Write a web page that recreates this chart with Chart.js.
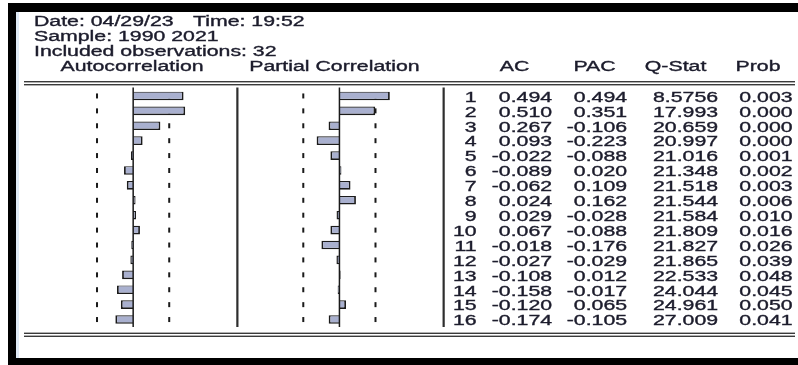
<!DOCTYPE html>
<html>
<head>
<meta charset="utf-8">
<title>Correlogram</title>
<script src="https://cdn.jsdelivr.net/npm/chart.js@4/dist/chart.umd.min.js"></script>
<style>
  html, body { margin: 0; padding: 0; background: #ffffff; }
  #wrap { width: 798px; height: 365px; }
</style>
</head>
<body>
<div id="wrap"><canvas id="cg" width="798" height="365"></canvas></div>
<script>
// Correlogram header
const headerLines = ['Date: 04/29/23', 'Sample: 1990 2021', 'Included observations: 32'];
const timeStamp = 'Time: 19:52';
const nObs = 32;

// Lags and statistics
const lags = ['1','2','3','4','5','6','7','8','9','10','11','12','13','14','15','16'];
const ac = [0.494, 0.510, 0.267, 0.093, -0.022, -0.089, -0.062, 0.024, 0.029, 0.067, -0.018, -0.027, -0.108, -0.158, -0.120, -0.174];
const pac = [0.494, 0.351, -0.106, -0.223, -0.088, 0.020, 0.109, 0.162, -0.028, -0.088, -0.176, -0.029, 0.012, -0.017, 0.065, -0.105];
const qStat = ['8.5756', '17.993', '20.659', '20.997', '21.016', '21.348', '21.518', '21.544', '21.584', '21.809', '21.827', '21.865', '22.533', '24.044', '24.961', '27.009'];
const prob = ['0.003', '0.000', '0.000', '0.000', '0.001', '0.002', '0.003', '0.006', '0.010', '0.016', '0.026', '0.039', '0.048', '0.045', '0.050', '0.041'];

// approximate 95% bound for the correlation panels
const bound = 2 / Math.sqrt(nObs);

const TEXT = '#1c1c2c';
const FONT = '14px "Liberation Sans", Arial, sans-serif';
const SX = 1.52; // wide lettering of the output window

function wideText(ctx, str, x, y, align) {
  ctx.save();
  ctx.translate(x, y);
  ctx.scale(SX, 1);
  ctx.textAlign = align;
  ctx.textBaseline = 'alphabetic';
  ctx.fillText(str, 0, 0);
  ctx.lineWidth = 0.35;
  ctx.strokeStyle = TEXT;
  ctx.strokeText(str, 0, 0);
  ctx.restore();
}

const correlogramFrame = {
  id: 'correlogramFrame',
  beforeDraw(chart) {
    const ctx = chart.ctx;
    const { xAc, xPac, xTab } = chart.scales;
    ctx.save();
    ctx.fillStyle = '#ffffff';
    ctx.fillRect(0, 0, chart.width, chart.height);
    // window border
    ctx.fillStyle = '#000000';
    ctx.fillRect(8, 3, 790, 9);
    ctx.fillRect(8, 3, 8, 362);
    ctx.fillRect(8, 358, 790, 7);
    ctx.fillStyle = '#dfeaf6';
    ctx.fillRect(16, 12, 3, 346);

    // header block
    ctx.fillStyle = TEXT;
    ctx.font = FONT;
    headerLines.forEach((t, i) => wideText(ctx, t, 34, 26 + i * 15, 'left'));
    wideText(ctx, timeStamp, 193, 26, 'left');

    // column titles
    const titleY = 71;
    wideText(ctx, 'Autocorrelation', xAc.getPixelForValue(0) - 1, titleY, 'center');
    wideText(ctx, 'Partial Correlation', xPac.getPixelForValue(0) - 5, titleY, 'center');
    const t0 = xTab.left;
    wideText(ctx, 'AC', t0 + 71, titleY, 'center');
    wideText(ctx, 'PAC', t0 + 151, titleY, 'center');
    wideText(ctx, 'Q-Stat', t0 + 232, titleY, 'center');
    wideText(ctx, 'Prob', t0 + 314.5, titleY, 'center');

    // double rules above and below the body
    ctx.fillStyle = '#3a3a3a';
    ctx.fillRect(24, 81, 771, 1.4);
    ctx.fillRect(24, 84, 771, 1.4);
    ctx.fillRect(24, 332.6, 771, 1.4);
    ctx.fillRect(24, 335.6, 771, 1.4);
    ctx.restore();
  },
  beforeDatasetsDraw(chart) {
    const ctx = chart.ctx;
    const { y, xAc, xPac } = chart.scales;
    ctx.save();
    // dashed confidence bounds, one dash per lag (bars cover them)
    ctx.fillStyle = '#1a1a1a';
    lags.forEach((lag, i) => {
      const cy = y.getPixelForValue(i);
      [xAc, xPac].forEach(s => {
        [-bound, bound].forEach(b => {
          ctx.fillRect(s.getPixelForValue(b) - 1, cy - 2.5, 2, 5);
        });
      });
    });
    ctx.restore();
  },
  afterDatasetsDraw(chart) {
    const ctx = chart.ctx;
    const { y, xAc, xPac, xTab } = chart.scales;
    const top = chart.chartArea.top - 1;
    const bottom = chart.chartArea.bottom;
    ctx.save();

    // panel separators
    ctx.fillStyle = '#2e2e2e';
    ctx.fillRect(xAc.right - 1, top, 2.2, bottom - top);
    ctx.fillRect(xTab.left - 1, top, 2.2, bottom - top);

    // zero axes
    ctx.fillStyle = '#1a1a1a';
    [xAc, xPac].forEach(s => {
      ctx.fillRect(s.getPixelForValue(0) - 0.7, top, 1.5, bottom - top);
    });

    // statistics table
    ctx.fillStyle = TEXT;
    ctx.font = FONT;
    const t0 = xTab.left;
    lags.forEach((lag, i) => {
      const by = y.getPixelForValue(i) + 5.8;
      wideText(ctx, lag, t0 + 33, by, 'right');
      wideText(ctx, ac[i].toFixed(3), t0 + 108.5, by, 'right');
      wideText(ctx, pac[i].toFixed(3), t0 + 183.5, by, 'right');
      wideText(ctx, qStat[i], t0 + 274.5, by, 'right');
      wideText(ctx, prob[i], t0 + 349, by, 'right');
    });
    ctx.restore();
  }
};

const barStyle = {
  backgroundColor: '#a9b0cf',
  borderColor: '#1b1b1b',
  borderWidth: { top: 1.2, bottom: 1.6, left: 1.8, right: 1.8 },
  borderSkipped: 'start',
  categoryPercentage: 1,
  barPercentage: 0.58,
  grouped: false
};

new Chart(document.getElementById('cg'), {
  type: 'bar',
  data: {
    labels: lags,
    datasets: [
      Object.assign({ label: 'AC', data: ac, xAxisID: 'xAc', yAxisID: 'y' }, barStyle),
      Object.assign({ label: 'PAC', data: pac, xAxisID: 'xPac', yAxisID: 'y' }, barStyle)
    ]
  },
  options: {
    indexAxis: 'y',
    responsive: false,
    animation: false,
    devicePixelRatio: 1,
    layout: { padding: { left: 31, top: 88.5, right: 0, bottom: 38 } },
    plugins: { legend: { display: false }, tooltip: { enabled: false }, title: { display: false } },
    scales: {
      y: { type: 'category', display: false, offset: true },
      xAc: { type: 'linear', position: 'bottom', stack: 'columns', stackWeight: 206.3, weight: 0, min: -1.0, max: 1.02, display: false },
      xPac: { type: 'linear', position: 'bottom', stack: 'columns', stackWeight: 206.3, weight: 1, min: -1.0, max: 1.02, display: false },
      xTab: { type: 'linear', position: 'bottom', stack: 'columns', stackWeight: 354.5, weight: 2, min: 0, max: 1, display: false }
    }
  },
  plugins: [correlogramFrame]
});
</script>
</body>
</html>
